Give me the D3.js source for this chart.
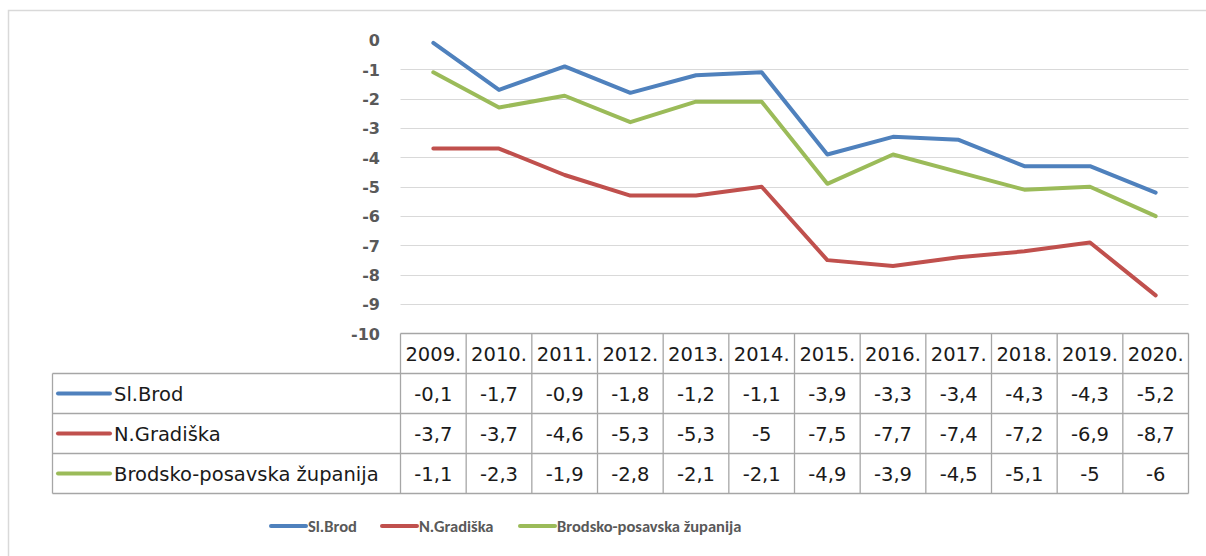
<!DOCTYPE html>
<html>
<head>
<meta charset="utf-8">
<script src="https://cdn.jsdelivr.net/npm/d3@7"></script>
<style>
  body { margin: 0; background: #fff; }
  svg { font-family: Calibri, Carlito, Lato, sans-serif; }
</style>
</head>
<body>
<div id="chart"></div>
<script>
var years = ['2009.', '2010.', '2011.', '2012.', '2013.', '2014.', '2015.', '2016.', '2017.', '2018.', '2019.', '2020.'];
var slBrod = [-0.1, -1.7, -0.9, -1.8, -1.2, -1.1, -3.9, -3.3, -3.4, -4.3, -4.3, -5.2];
var nGradiska = [-3.7, -3.7, -4.6, -5.3, -5.3, -5, -7.5, -7.7, -7.4, -7.2, -6.9, -8.7];
var bpz = [-1.1, -2.3, -1.9, -2.8, -2.1, -2.1, -4.9, -3.9, -4.5, -5.1, -5, -6];
var seriesNames = ['Sl.Brod', 'N.Gradiška', 'Brodsko-posavska županija'];
var yTicks = [0, -1, -2, -3, -4, -5, -6, -7, -8, -9, -10];

var series = [
  {name: seriesNames[0], values: slBrod, color: '#4F81BD'},
  {name: seriesNames[1], values: nGradiska, color: '#C0504D'},
  {name: seriesNames[2], values: bpz, color: '#9BBB59'}
];

var width = 1206, height = 556;
var plot = {left: 400.5, right: 1188.5, top: 40, bottom: 333.5};
var tableLeft = 52.5, rowH = 40;
var tableFont = '"DejaVu Sans", sans-serif';

var svg = d3.select('#chart').append('svg')
  .attr('width', width)
  .attr('height', height);

// outer chart frame
svg.append('rect')
  .attr('x', 8.5).attr('y', 10.5)
  .attr('width', 1220).attr('height', 570)
  .attr('fill', '#fff')
  .attr('stroke', '#d9d9d9')
  .attr('stroke-width', 1.5);

var x = d3.scaleBand().domain(years).range([plot.left, plot.right]);
var y = d3.scaleLinear().domain([-10, 0]).range([plot.bottom, plot.top]);

// gridlines
svg.append('g')
  .selectAll('line')
  .data(yTicks.filter(function(d) { return d !== 0 && d !== -10; }))
  .enter().append('line')
  .attr('x1', plot.left).attr('x2', plot.right)
  .attr('y1', function(d) { return Math.round(y(d)) + 0.5; })
  .attr('y2', function(d) { return Math.round(y(d)) + 0.5; })
  .attr('stroke', '#d9d9d9')
  .attr('stroke-width', 1.2);

// y axis labels
var yAxis = d3.axisLeft(y).tickValues(yTicks).tickSize(0).tickPadding(0)
  .tickFormat(function(d) { return d3.format('d')(d).replace('−', '-'); });
var gy = svg.append('g')
  .attr('transform', 'translate(380,0)')
  .call(yAxis);
gy.select('.domain').remove();
gy.selectAll('text')
  .attr('font-family', tableFont)
  .attr('font-size', 16)
  .attr('font-weight', 'bold')
  .attr('fill', '#595959')
  .attr('dy', '0.36em');

// lines
var line = d3.line()
  .x(function(d, i) { return x(years[i]) + x.bandwidth() / 2; })
  .y(function(d) { return y(d); });

svg.append('g')
  .selectAll('path')
  .data(series)
  .enter().append('path')
  .attr('d', function(d) { return line(d.values); })
  .attr('fill', 'none')
  .attr('stroke', function(d) { return d.color; })
  .attr('stroke-width', 4)
  .attr('stroke-linejoin', 'round')
  .attr('stroke-linecap', 'round');

// data table
var table = svg.append('g')
  .attr('font-family', tableFont);
var gridColor = '#a6a6a6';
var tableTop = plot.bottom;
var tableBottom = tableTop + rowH * 4;

// horizontal lines
[0, 1, 2, 3, 4].forEach(function(r) {
  table.append('line')
    .attr('x1', r === 0 ? plot.left : tableLeft)
    .attr('x2', plot.right)
    .attr('y1', tableTop + r * rowH).attr('y2', tableTop + r * rowH)
    .attr('stroke', gridColor).attr('stroke-width', 1.3);
});
// vertical lines
years.forEach(function(yr) {
  table.append('line')
    .attr('x1', x(yr)).attr('x2', x(yr))
    .attr('y1', tableTop).attr('y2', tableBottom)
    .attr('stroke', gridColor).attr('stroke-width', 1.3);
});
table.append('line')
  .attr('x1', plot.right).attr('x2', plot.right)
  .attr('y1', tableTop).attr('y2', tableBottom)
  .attr('stroke', gridColor).attr('stroke-width', 1.3);
table.append('line')
  .attr('x1', tableLeft).attr('x2', tableLeft)
  .attr('y1', tableTop + rowH).attr('y2', tableBottom)
  .attr('stroke', gridColor).attr('stroke-width', 1.3);

// header
table.selectAll('text.hdr')
  .data(years)
  .enter().append('text')
  .attr('class', 'hdr')
  .attr('x', function(d) { return x(d) + x.bandwidth() / 2; })
  .attr('y', tableTop + rowH / 2)
  .attr('dy', '0.36em')
  .attr('text-anchor', 'middle')
  .attr('font-size', 19.5)
  .attr('fill', '#1a1a1a')
  .text(function(d) { return d; });

series.forEach(function(s, i) {
  var rowY = tableTop + rowH * (i + 1) + rowH / 2;
  table.append('line')
    .attr('x1', 58).attr('x2', 110)
    .attr('y1', rowY).attr('y2', rowY)
    .attr('stroke', s.color).attr('stroke-width', 4)
    .attr('stroke-linecap', 'round');
  table.append('text')
    .attr('x', 114).attr('y', rowY)
    .attr('dy', '0.36em')
    .attr('font-size', 19.5)
    .attr('fill', '#1a1a1a')
    .text(s.name);
  table.selectAll(null)
    .data(s.values)
    .enter().append('text')
    .attr('x', function(d, j) { return x(years[j]) + x.bandwidth() / 2; })
    .attr('y', rowY)
    .attr('dy', '0.36em')
    .attr('text-anchor', 'middle')
    .attr('font-size', 19.5)
    .attr('fill', '#1a1a1a')
    .text(function(d) { return String(d).replace('.', ','); });
});

// legend
var legendX = [271, 382, 520];
var legend = svg.append('g');
series.forEach(function(s, i) {
  legend.append('line')
    .attr('x1', legendX[i]).attr('x2', legendX[i] + 35)
    .attr('y1', 526).attr('y2', 526)
    .attr('stroke', s.color).attr('stroke-width', 4)
    .attr('stroke-linecap', 'round');
  legend.append('text')
    .attr('x', legendX[i] + 37).attr('y', 526)
    .attr('dy', '0.36em')
    .attr('font-size', 16.5)
    .attr('font-weight', 'bold')
    .attr('fill', '#595959')
    .text(s.name);
});
</script>
</body>
</html>
